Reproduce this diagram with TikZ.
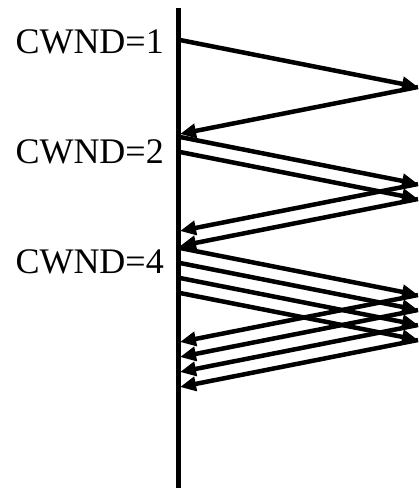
\documentclass[tikz,border=0pt]{standalone}
\usepackage{fontspec}
\setmainfont{Liberation Serif}
\usepackage{tikz}
\usetikzlibrary{arrows.meta}

\begin{document}
\begin{tikzpicture}[
    x=1pt, y=-1pt,
    every node/.style={font=\fontsize{36}{40}\selectfont, inner sep=0pt},
    timeline/.style={line width=5pt},
    pkt/.style={line width=4.5pt, -{Triangle[length=16pt, width=14pt]}},
]
\useasboundingbox (0,0) rectangle (419,501);

% --- Sender time line ---
\coordinate (top) at (178,8);
\coordinate (bot) at (178,488);
\draw[timeline] (top) -- (bot);

% --- One round per window: w packets out, w acks back ---
% \w = window, \t = first send time, \b = label baseline
\foreach \w/\t/\b in {1/40/53, 2/137/163, 4/248/273} {
    \node[anchor=base east] (cw\w) at (164,\b) {CWND=\w};
    \foreach \i in {1,...,\w} {
        \pgfmathsetmacro\ys{\t+15*(\i-1)}
        \coordinate (s\w-\i) at (180,\ys);        % send
        \coordinate (r\w-\i) at (418,\ys+47);     % receiver
        \coordinate (a\w-\i) at (180,\ys+94);     % ack back
        \draw[pkt] (s\w-\i) -- (r\w-\i);
        \draw[pkt] (r\w-\i) -- (a\w-\i);
    }
}
\end{tikzpicture}
\end{document}
